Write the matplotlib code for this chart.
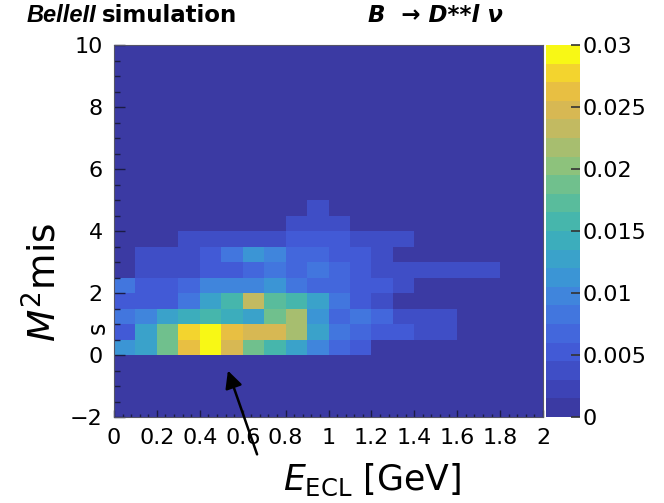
import numpy as np
import matplotlib
matplotlib.use("Agg")
import matplotlib.pyplot as plt
from matplotlib.colors import LinearSegmentedColormap, ListedColormap, Normalize

plt.rcParams["font.family"] = ["DejaVu Sans"]
plt.rcParams["mathtext.fontset"] = "dejavusans"

# Binning: E_ECL in 0.1 GeV bins, M^2_miss in 0.5 bins
x_edges = np.round(np.arange(0.0, 2.0001, 0.1), 2)
y_edges = np.round(np.arange(-2.0, 10.0001, 0.5), 2)

# Normalised bin contents (x1e-3), one list per M^2_miss bin, starting at M^2_miss = 0
m2_0_05 = [11, 12, 19, 26, 30, 24, 18, 15, 13, 9, 6, 5, 0, 0, 0, 0, 0, 0, 0, 0]
m2_05_10 = [5, 12, 19, 27, 30, 26, 24, 24, 22, 12, 8, 6, 5, 5, 4, 4, 0, 0, 0, 0]
m2_10_15 = [8, 9, 13, 14, 15, 14, 13, 19, 21, 11, 6, 8, 6, 4, 4, 4, 0, 0, 0, 0]
m2_15_20 = [5, 5, 5, 8, 13, 15, 23, 17, 16, 12, 8, 5, 4, 0, 0, 0, 0, 0, 0, 0]
m2_20_25 = [8, 5, 5, 7, 9, 9, 10, 11, 8, 6, 6, 5, 5, 4, 0, 0, 0, 0, 0, 0]
m2_25_30 = [0, 4, 4, 4, 5, 5, 6, 8, 7, 8, 7, 5, 4, 4, 4, 4, 4, 4, 0, 0]
m2_30_35 = [0, 4, 4, 4, 5, 8, 11, 9, 7, 6, 5, 5, 3, 0, 0, 0, 0, 0, 0, 0]
m2_35_40 = [0, 0, 0, 4, 4, 4, 4, 4, 5, 5, 5, 4, 4, 4, 0, 0, 0, 0, 0, 0]
m2_40_45 = [0, 0, 0, 0, 0, 0, 0, 0, 4, 4, 4, 0, 0, 0, 0, 0, 0, 0, 0, 0]
m2_45_50 = [0, 0, 0, 0, 0, 0, 0, 0, 0, 4, 0, 0, 0, 0, 0, 0, 0, 0, 0, 0]

filled_rows = [m2_0_05, m2_05_10, m2_10_15, m2_15_20, m2_20_25,
               m2_25_30, m2_30_35, m2_35_40, m2_40_45, m2_45_50]

cbar_ticks = [0, 0.005, 0.01, 0.015, 0.02, 0.025, 0.03]
cbar_labels = ["0", "0.005", "0.01", "0.015", "0.02", "0.025", "0.03"]
x_ticks = [0, 0.2, 0.4, 0.6, 0.8, 1.0, 1.2, 1.4, 1.6, 1.8, 2.0]
x_labels = ["0", "0.2", "0.4", "0.6", "0.8", "1", "1.2", "1.4", "1.6", "1.8", "2"]
y_ticks = [-2, 0, 2, 4, 6, 8, 10]

# Full histogram grid (rows: M^2_miss bins from -2 to 10)
z = np.zeros((len(y_edges) - 1, len(x_edges) - 1))
first = int(np.argmin(np.abs(y_edges - 0.0)))
z[first:first + len(filled_rows), :] = np.array(filled_rows) * 1e-3

# Bird-like palette with 20 contour levels
anchors = ["#3b3aa3", "#3e48bf", "#4259d6", "#436ddf", "#4083dd", "#3a9ad3",
           "#3aabc0", "#48b8a8", "#68bf92", "#90c27a", "#b8bb68", "#d8b852",
           "#f0c23a", "#f8f815"]
smooth = LinearSegmentedColormap.from_list("bird", anchors)
palette = ListedColormap(smooth(np.linspace(0, 1, 20)))

fig = plt.figure(figsize=(6.64, 5.03), dpi=100)
ax = fig.add_axes([114 / 664, 1 - 417 / 503, 429 / 664, 372 / 503])
mesh = ax.pcolormesh(x_edges, y_edges, z, cmap=palette,
                     norm=Normalize(vmin=0, vmax=0.03), shading="flat")
ax.set_xlim(0, 2)
ax.set_ylim(-2, 10)
ax.set_xticks(x_ticks)
ax.set_xticklabels(x_labels)
ax.set_yticks(y_ticks)
ax.set_xticks(np.arange(0, 2.0001, 0.04), minor=True)
ax.set_yticks(np.arange(-2, 10.0001, 0.5), minor=True)
ax.tick_params(axis="both", which="both", direction="in", top=False,
               right=False, color="#1c1c44", width=1.0)
ax.tick_params(axis="x", which="major", length=5, pad=8, labelsize=16)
ax.tick_params(axis="x", which="minor", length=2.5)
ax.tick_params(axis="y", which="major", length=8, pad=8, labelsize=16)
ax.tick_params(axis="y", which="minor", length=4.3)
for s in ax.spines.values():
    s.set_color("#555566")
    s.set_linewidth(0.8)

cax = fig.add_axes([546 / 664, 1 - 417 / 503, 34 / 664, 372 / 503])
cb = fig.colorbar(mesh, cax=cax, ticks=cbar_ticks)
cb.set_ticklabels(cbar_labels)
cb.outline.set_visible(False)
cax.tick_params(direction="in", length=6.5, width=1.2, color="#333333",
                pad=2, labelsize=16)

fig.text(27 / 664, 1 - 22 / 503, "BelleII", fontsize=17,
         family=["Liberation Sans", "DejaVu Sans"],
         fontweight="bold", style="italic", va="baseline", ha="left")
fig.text(102 / 664, 1 - 22 / 503, "simulation", fontsize=16.5,
         fontweight="bold", va="baseline", ha="left")
fig.text(368 / 664, 1 - 22 / 503, "B  \u2192 D**l \u03bd", fontsize=16.5,
         fontweight="bold", style="italic", va="baseline", ha="left")

fig.text(45 / 664, 1 - 282 / 503, r"$M^2\mathrm{mis}$", fontsize=27,
         rotation=90, ha="center", va="center")
fig.text(98 / 664, 1 - 328 / 503, "s", fontsize=17, rotation=90,
         ha="center", va="center")
fig.text(372 / 664, 1 - 480 / 503, r"$E_{\mathrm{ECL}}$ [GeV]", fontsize=25,
         ha="center", va="center")

ax.annotate("", xy=(227 / 664, 1 - 368 / 503), xycoords="figure fraction",
            xytext=(258 / 664, 1 - 457 / 503), textcoords="figure fraction",
            arrowprops=dict(arrowstyle="-|>", color="black", lw=1.8,
                            mutation_scale=26))

fig.savefig("out.png", dpi=100)
